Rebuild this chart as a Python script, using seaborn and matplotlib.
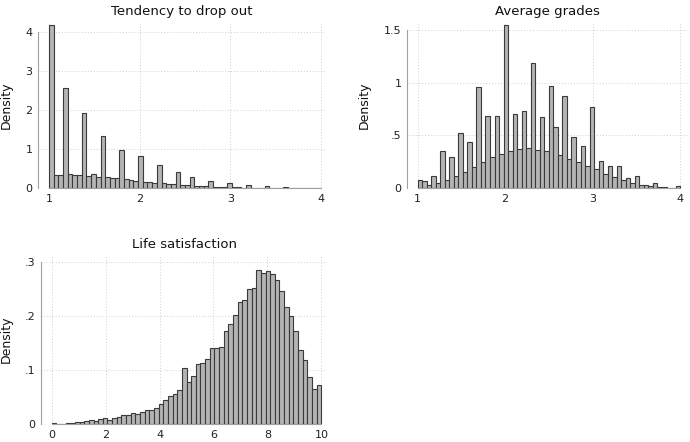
import numpy as np
import pandas as pd
import matplotlib
matplotlib.use("Agg")
import matplotlib.pyplot as plt
import seaborn as sns

# bin heights (density), 58 bins per variable
dropout_range = (1, 4)
dropout_density = [
    4.17, 0.33, 0.33, 2.57, 0.37, 0.33, 0.33, 1.93, 0.31, 0.35,
    0.29, 1.33, 0.28, 0.26, 0.26, 0.98, 0.22, 0.20, 0.19, 0.81,
    0.16, 0.145, 0.135, 0.60, 0.12, 0.10, 0.09, 0.40, 0.07, 0.07,
    0.27, 0.05, 0.05, 0.05, 0.17, 0.025, 0.025, 0.025, 0.13, 0.017,
    0.015, 0.012, 0.075, 0.01, 0.008, 0.008, 0.055, 0.005, 0.004, 0.004,
    0.015, 0.003, 0.003, 0.003, 0.012, 0.002, 0.002, 0.006,
]

grades_range = (1, 4)
grades_density = [
    0.073, 0.065, 0.03, 0.115, 0.05, 0.35, 0.075, 0.29, 0.115, 0.52,
    0.155, 0.44, 0.197, 0.955, 0.245, 0.685, 0.29, 0.685, 0.325, 1.545,
    0.35, 0.70, 0.37, 0.73, 0.38, 1.185, 0.36, 0.675, 0.355, 0.965,
    0.583, 0.314, 0.87, 0.28, 0.48, 0.244, 0.40, 0.205, 0.766, 0.176,
    0.256, 0.135, 0.205, 0.10, 0.21, 0.077, 0.096, 0.05, 0.11, 0.03,
    0.03, 0.02, 0.05, 0.006, 0.013, 0.003, 0.003, 0.022,
]

life_range = (0, 10)
life_density = [
    0.0015, 0.0008, 0.0008, 0.0015, 0.0015, 0.003, 0.004, 0.005, 0.007, 0.005,
    0.010, 0.012, 0.007, 0.012, 0.013, 0.016, 0.016, 0.020, 0.018, 0.023,
    0.026, 0.026, 0.030, 0.037, 0.044, 0.052, 0.056, 0.063, 0.104, 0.078,
    0.088, 0.111, 0.113, 0.120, 0.141, 0.140, 0.142, 0.171, 0.185, 0.202,
    0.225, 0.229, 0.250, 0.252, 0.284, 0.279, 0.283, 0.277, 0.267, 0.245,
    0.216, 0.200, 0.172, 0.137, 0.118, 0.087, 0.064, 0.072,
]

dropout_xticks = [1, 2, 3, 4]
dropout_yticks = [0, 1, 2, 3, 4]
dropout_ylabels = ["0", "1", "2", "3", "4"]
grades_xticks = [1, 2, 3, 4]
grades_yticks = [0, 0.5, 1, 1.5]
grades_ylabels = ["0", ".5", "1", "1.5"]
life_xticks = [0, 2, 4, 6, 8, 10]
life_yticks = [0, 0.1, 0.2, 0.3]
life_ylabels = ["0", ".1", ".2", ".3"]

sns.set_style("white")
plt.rcParams["font.family"] = ["DejaVu Sans"]

W, H = 690, 442
fig = plt.figure(figsize=(W / 100, H / 100), dpi=100)


def px_axes(left, top, right, bottom):
    return fig.add_axes([left / W, 1 - bottom / H, (right - left) / W, (bottom - top) / H])


def draw_hist(ax, heights, xrange_, title, xticks, yticks, ylabels, xlim, ylim, ylab_x):
    n = len(heights)
    edges = np.linspace(xrange_[0], xrange_[1], n + 1)
    df = pd.DataFrame({"value": (edges[:-1] + edges[1:]) / 2, "density": heights})
    # bins as int + binrange: seaborn chokes on array bins together with weights
    sns.histplot(data=df, x="value", weights="density", bins=n, binrange=xrange_,
                 stat="count", ax=ax, color="#b4b4b4", edgecolor="#3a3a3a",
                 linewidth=0.8, alpha=1)
    ax.set_xlim(*xlim)
    ax.set_ylim(*ylim)
    ax.set_xticks(xticks)
    ax.set_xticklabels([str(t) for t in xticks])
    ax.set_yticks(yticks)
    ax.set_yticklabels(ylabels)
    ax.set_axisbelow(True)
    ax.grid(True, color="#cfcfcf", linestyle=(0, (1, 2)), linewidth=0.7)
    for side in ["top", "right"]:
        ax.spines[side].set_visible(False)
    for side in ["left", "bottom"]:
        ax.spines[side].set_color("#a0a0a0")
        ax.spines[side].set_linewidth(0.8)
    ax.spines["left"].set_bounds(yticks[0], yticks[-1])
    ax.spines["bottom"].set_bounds(xticks[0], xticks[-1])
    ax.tick_params(axis="both", direction="out", length=2.5, width=0.8,
                   color="#a0a0a0", labelsize=8, labelcolor="#222222", pad=1.5)
    ax.set_title(title, fontsize=9.5, pad=5, color="#111111")
    ax.set_xlabel("")
    ax.set_ylabel("Density", fontsize=9, color="#111111")
    ax.yaxis.set_label_coords(ylab_x, 0.5)


ax1 = px_axes(38, 22, 325, 188)
draw_hist(ax1, dropout_density, dropout_range, "Tendency to drop out",
          dropout_xticks, dropout_yticks, dropout_ylabels,
          (0.879, 4.044), (0, 4.256), -0.087)

ax2 = px_axes(407, 22, 688, 188)
draw_hist(ax2, grades_density, grades_range, "Average grades",
          grades_xticks, grades_yticks, grades_ylabels,
          (0.879, 4.09), (0, 1.576), -0.128)

ax3 = px_axes(41, 255, 327, 424)
draw_hist(ax3, life_density, life_range, "Life satisfaction",
          life_xticks, life_yticks, life_ylabels,
          (-0.397, 10.21), (0, 0.3124), -0.098)

fig.savefig("out.png", dpi=100)
